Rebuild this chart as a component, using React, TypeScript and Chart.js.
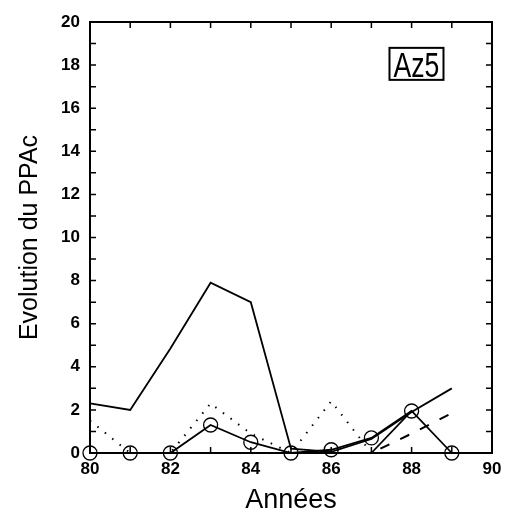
import React, { useEffect, useRef } from "react";
import { Chart, registerables } from "chart.js";

Chart.register(...registerables);

const years = [80, 81, 82, 83, 84, 85, 86, 87, 88, 89];
const seriesSolid = [2.3, 2.0, 4.85, 7.9, 7.0, 0.2, 0.05, 0.65, 1.9, 3.0];
const seriesCircles = [0, 0, 0, 1.3, 0.5, 0, 0.15, 0.7, 1.95, 0];
const seriesDotted = [1.5, 0, 0, 2.3, 0.9, 0, 2.4, 0, null, null];
const seriesDashed = [null, null, null, null, null, null, null, 0, 0.9, 1.85];
const seriesExtra = [null, null, null, null, null, null, null, 0, 1.95, null];

const xTicks = [80, 82, 84, 86, 88, 90];
const yTicks = [0, 2, 4, 6, 8, 10, 12, 14, 16, 18, 20];
const boxLabel = "Az5";
const xTitle = "Années";
const yTitle = "Evolution du PPAc";

const toPoints = (vals: (number | null)[]) =>
  years.map((x, i) => ({ x, y: vals[i] }));

const framePlugin = {
  id: "frameTicks",
  afterDraw(chart: any) {
    const { ctx, chartArea } = chart;
    const xs = chart.scales.x;
    const ys = chart.scales.y;
    const { left, right, top, bottom } = chartArea;
    ctx.save();
    ctx.strokeStyle = "#000";
    ctx.lineWidth = 2;
    ctx.strokeRect(left, top, right - left, bottom - top);
    ctx.lineWidth = 1.5;
    ctx.beginPath();
    for (let v = 0; v <= 20; v++) {
      const y = ys.getPixelForValue(v);
      ctx.moveTo(left, y);
      ctx.lineTo(left + 6, y);
      ctx.moveTo(right, y);
      ctx.lineTo(right - 6, y);
    }
    for (let v = 80; v <= 90; v++) {
      const x = xs.getPixelForValue(v);
      ctx.moveTo(x, bottom);
      ctx.lineTo(x, bottom - 6);
      ctx.moveTo(x, top);
      ctx.lineTo(x, top + 6);
    }
    ctx.stroke();
    // label box
    const bx = xs.getPixelForValue(87.45);
    const by = ys.getPixelForValue(18.8);
    ctx.lineWidth = 2;
    ctx.strokeRect(bx, by, 54, 32);
    ctx.fillStyle = "#000";
    ctx.font = "28px 'Liberation Sans', Arial, sans-serif";
    ctx.textAlign = "center";
    ctx.textBaseline = "alphabetic";
    ctx.translate(bx + 27, by + 29);
    ctx.scale(0.95, 1.22);
    ctx.fillText(boxLabel, 0, 0);
    ctx.restore();
  },
};

export default function App() {
  const ref = useRef<HTMLCanvasElement | null>(null);
  useEffect(() => {
    if (!ref.current) return;
    const common = {
      borderColor: "#000",
      backgroundColor: "transparent",
      tension: 0,
      spanGaps: false,
      clip: false,
    };
    const chart = new Chart(ref.current, {
      type: "line",
      data: {
        datasets: [
          { ...common, label: "A", data: toPoints(seriesSolid), borderWidth: 1.8, pointRadius: 0 },
          {
            ...common,
            label: "B",
            data: toPoints(seriesCircles),
            borderWidth: 1.8,
            pointRadius: 7,
            pointBorderWidth: 1.3,
            pointBorderColor: "#000",
            pointBackgroundColor: "transparent",
          },
          {
            ...common,
            label: "C",
            data: toPoints(seriesDotted),
            borderWidth: 2,
            borderDash: [1.5, 8],
            pointRadius: 0,
          },
          {
            ...common,
            label: "D",
            data: toPoints(seriesDashed),
            borderWidth: 2,
            borderDash: [10, 12],
            borderDashOffset: 12,
            pointRadius: 0,
          },
          { ...common, label: "E", data: toPoints(seriesExtra), borderWidth: 1.8, pointRadius: 0 },
        ],
      },
      options: {
        responsive: false,
        animation: false,
        layout: { padding: { top: 22, right: 19, left: 0, bottom: 0 } },
        plugins: { legend: { display: false }, tooltip: { enabled: false } },
        scales: {
          x: {
            type: "linear",
            min: 80,
            max: 90,
            afterFit: (s: any) => {
              s.height = 65;
            },
            afterBuildTicks: (s: any) => {
              s.ticks = xTicks.map((v) => ({ value: v }));
            },
            grid: { display: false, drawTicks: false },
            border: { display: false },
            ticks: {
              color: "#000",
              padding: 6,
              maxRotation: 0,
              font: { family: "'Liberation Sans', Arial, sans-serif", size: 17, weight: "bold" },
            },
            title: {
              display: true,
              text: xTitle,
              color: "#000",
              padding: { top: 0, bottom: 1 },
              font: { family: "'Liberation Sans', Arial, sans-serif", size: 27 },
            },
          },
          y: {
            type: "linear",
            min: 0,
            max: 20,
            afterFit: (s: any) => {
              s.width = 90;
            },
            afterBuildTicks: (s: any) => {
              s.ticks = yTicks.map((v) => ({ value: v }));
            },
            grid: { display: false, drawTicks: false },
            border: { display: false },
            ticks: {
              color: "#000",
              padding: 10,
              font: { family: "'Liberation Sans', Arial, sans-serif", size: 17, weight: "bold" },
            },
            title: {
              display: true,
              text: yTitle,
              color: "#000",
              padding: { top: 15, bottom: 0 },
              font: { family: "'Liberation Sans', Arial, sans-serif", size: 25 },
            },
          },
        },
      },
      plugins: [framePlugin],
    } as any);
    return () => chart.destroy();
  }, []);
  return (
    <div style={{ position: "absolute", left: 0, top: 0, width: 511, height: 518, background: "#fff" }}>
      <canvas ref={ref} width={511} height={518} style={{ display: "block" }} />
    </div>
  );
}
